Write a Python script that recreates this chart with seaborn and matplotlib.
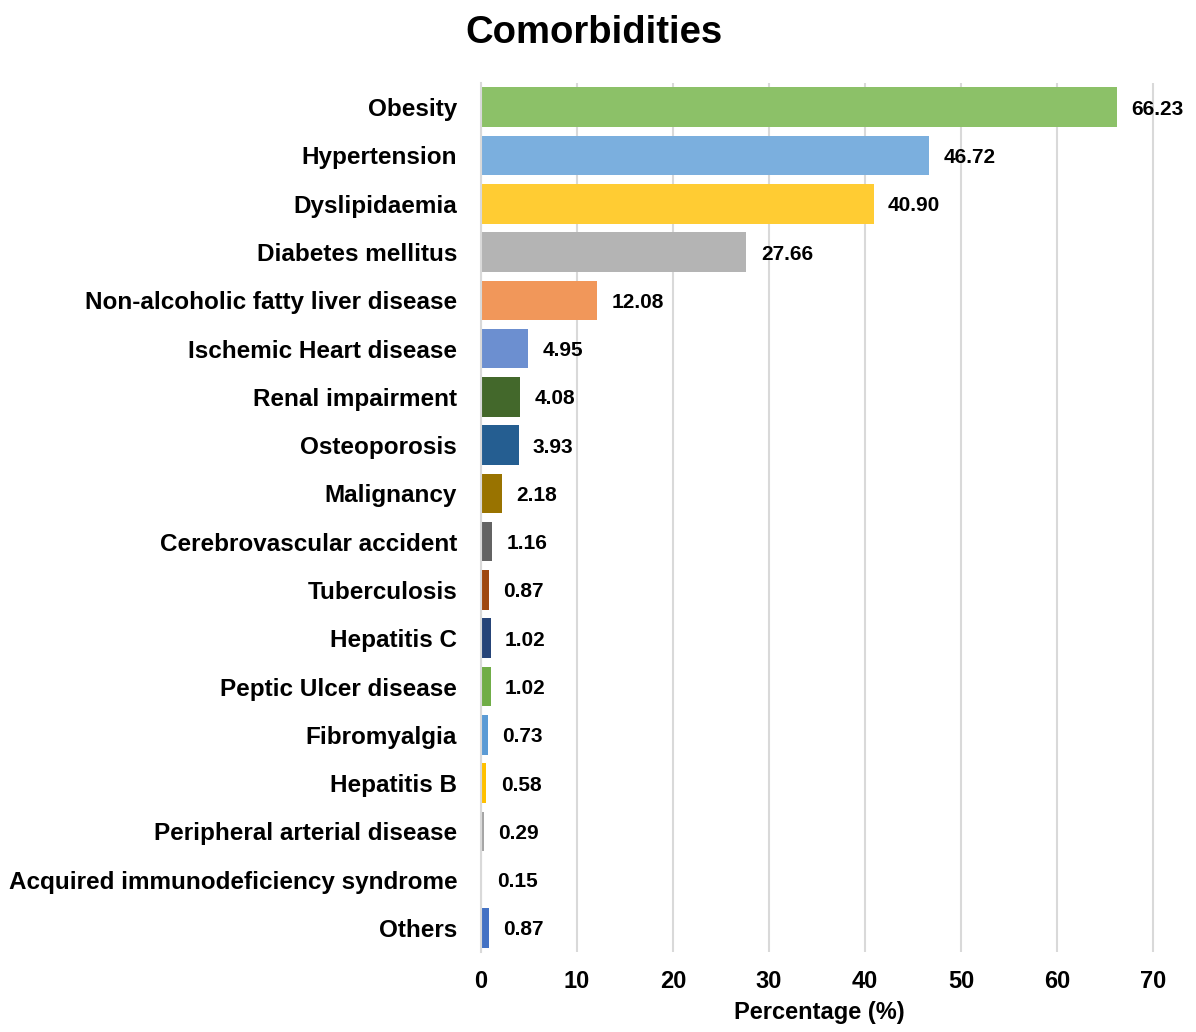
import pandas as pd
import matplotlib.pyplot as plt
import seaborn as sns

sns.set_style("white")
plt.rcParams['font.family'] = ['Liberation Sans', 'DejaVu Sans']
plt.rcParams['text.color'] = 'black'
plt.rcParams['xtick.color'] = 'black'
plt.rcParams['ytick.color'] = 'black'
plt.rcParams['axes.labelcolor'] = 'black'

# -----------------------------
# Data
# -----------------------------
conditions = [
    "Obesity", "Hypertension", "Dyslipidaemia", "Diabetes mellitus",
    "Non-alcoholic fatty liver disease", "Ischemic Heart disease",
    "Renal impairment", "Osteoporosis", "Malignancy",
    "Cerebrovascular accident", "Tuberculosis", "Hepatitis C",
    "Peptic Ulcer disease", "Fibromyalgia", "Hepatitis B",
    "Peripheral arterial disease", "Acquired immunodeficiency syndrome",
    "Others",
]
percentages = [66.23, 46.72, 40.90, 27.66, 12.08, 4.95, 4.08, 3.93, 2.18,
               1.16, 0.87, 1.02, 1.02, 0.73, 0.58, 0.29, 0.15, 0.87]
bar_colors = ["#8CC168", "#7BAFDE", "#FFCC33", "#B4B4B4", "#F1975A",
              "#6C8FD0", "#43682B", "#255E91", "#997300", "#636363",
              "#9E480E", "#264478", "#70AD47", "#5B9BD5", "#FFC000",
              "#A5A5A5", "#ED7D31", "#4472C4"]

df = pd.DataFrame({"condition": conditions, "pct": percentages})

# -----------------------------
# Plot
# -----------------------------
fig = plt.figure(figsize=(11.96, 10.32), dpi=100)
ax = fig.add_axes([0.402, 0.0775, 0.566, 0.842])

sns.barplot(data=df, x="pct", y="condition", hue="condition",
            palette=bar_colors, saturation=1, legend=False, width=0.82,
            linewidth=0, ax=ax)

ax.set_xlim(0, 70.5)
ax.set_xticks(range(0, 71, 10))
ax.xaxis.grid(True, color="#D9D9D9", linewidth=1.5)
ax.set_axisbelow(True)
for s in ["top", "right", "bottom"]:
    ax.spines[s].set_visible(False)
ax.spines["left"].set_color("#D9D9D9")
ax.spines["left"].set_linewidth(1.5)
ax.tick_params(axis="both", length=0)
ax.tick_params(axis="x", pad=13, labelsize=17)
ax.tick_params(axis="y", pad=17, labelsize=17.5)
for lbl in ax.get_xticklabels() + ax.get_yticklabels():
    lbl.set_fontweight("bold")

for i, v in enumerate(percentages):
    ax.text(v + 1.5, i, f"{v:.2f}", va="center_baseline", ha="left",
            fontsize=15, fontweight="bold")

ax.set_ylabel("")
ax.set_xlabel("Percentage (%)", fontsize=17, fontweight="bold", labelpad=6)
fig.suptitle("Comorbidities", fontsize=27.5, fontweight="bold",
             x=0.497, y=0.985)

plt.savefig("out.png", dpi=100)
